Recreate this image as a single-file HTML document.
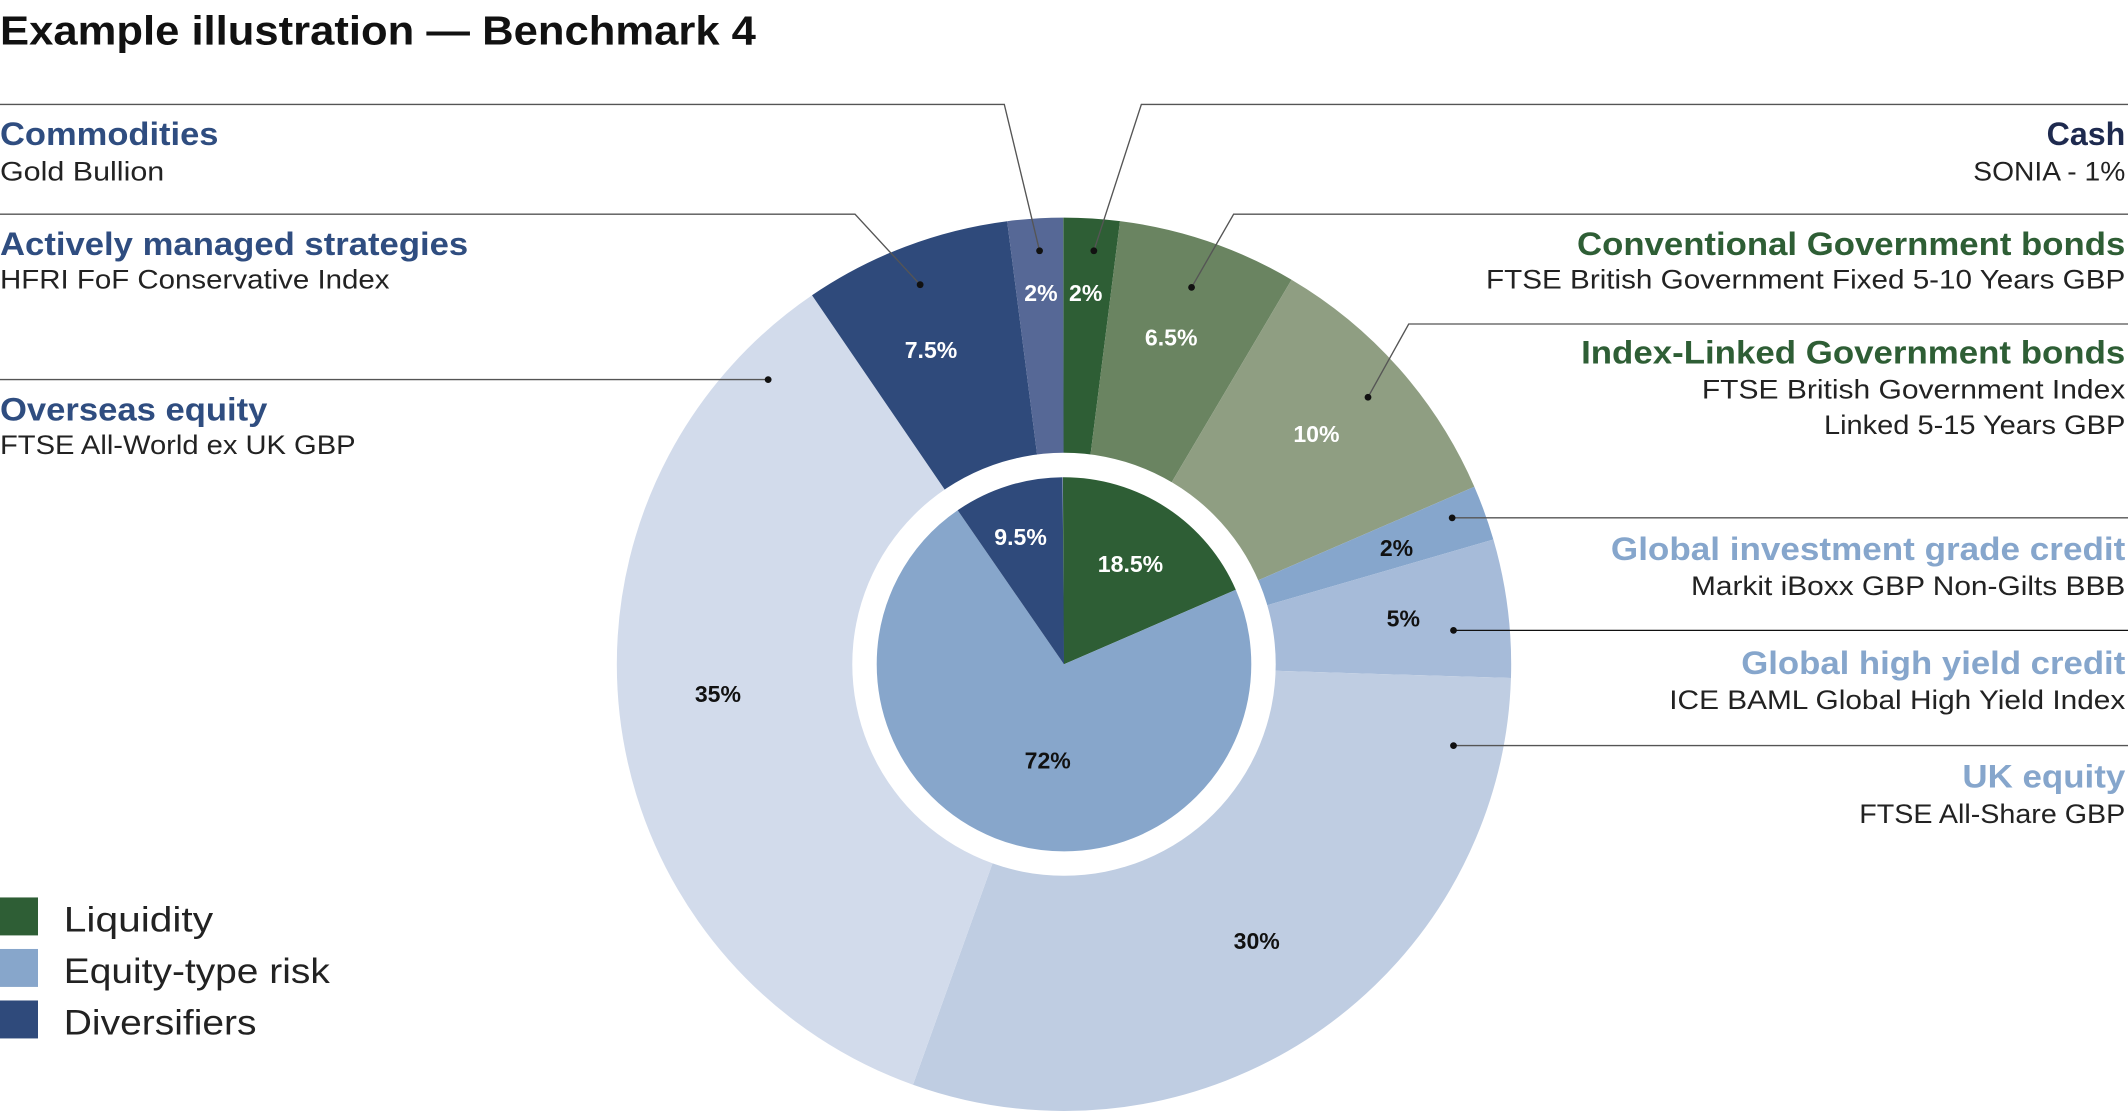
<!DOCTYPE html>
<html><head><meta charset="utf-8"><style>
html,body{margin:0;padding:0;background:#fff;width:2128px;height:1113px;overflow:hidden}
svg{display:block}
text{font-family:"Liberation Sans",sans-serif}
.b{font-weight:bold}
.t{font-size:24px;font-weight:bold}
.s{font-size:20px;fill:#222}
.p{font-size:17px;font-weight:bold;text-anchor:middle}
</style></head><body>
<svg width="2128" height="1113" viewBox="0 0 1568 821" preserveAspectRatio="none" xmlns="http://www.w3.org/2000/svg">
<text x="0" y="33" font-size="30" class="b" fill="#111" textLength="557" lengthAdjust="spacingAndGlyphs">Example illustration — Benchmark 4</text>
<!-- outer ring -->
<g transform="rotate(-90 784 490)" fill="none" stroke-width="174">
<circle cx="784" cy="490" r="242.5" pathLength="100" stroke="#2e5e35" stroke-dasharray="2 98" stroke-dashoffset="0"/>
<circle cx="784" cy="490" r="242.5" pathLength="100" stroke="#6a8461" stroke-dasharray="6.5 93.5" stroke-dashoffset="-2"/>
<circle cx="784" cy="490" r="242.5" pathLength="100" stroke="#8f9e82" stroke-dasharray="10 90" stroke-dashoffset="-8.5"/>
<circle cx="784" cy="490" r="242.5" pathLength="100" stroke="#86a6cc" stroke-dasharray="2 98" stroke-dashoffset="-18.5"/>
<circle cx="784" cy="490" r="242.5" pathLength="100" stroke="#a6bbd9" stroke-dasharray="5 95" stroke-dashoffset="-20.5"/>
<circle cx="784" cy="490" r="242.5" pathLength="100" stroke="#bfcde2" stroke-dasharray="30 70" stroke-dashoffset="-25.5"/>
<circle cx="784" cy="490" r="242.5" pathLength="100" stroke="#d2dbeb" stroke-dasharray="35 65" stroke-dashoffset="-55.5"/>
<circle cx="784" cy="490" r="242.5" pathLength="100" stroke="#2f4a7b" stroke-dasharray="7.5 92.5" stroke-dashoffset="-90.5"/>
<circle cx="784" cy="490" r="242.5" pathLength="100" stroke="#566896" stroke-dasharray="2 98" stroke-dashoffset="-98"/>
</g>
<circle cx="784" cy="490" r="156" fill="#fff"/>
<g transform="rotate(-90 784 490)" fill="none" stroke-width="138">
<circle cx="784" cy="490" r="69" pathLength="100" stroke="#2e5e35" stroke-dasharray="18.5 81.5" stroke-dashoffset="0"/>
<circle cx="784" cy="490" r="69" pathLength="100" stroke="#87a6cb" stroke-dasharray="72 28" stroke-dashoffset="-18.5"/>
<circle cx="784" cy="490" r="69" pathLength="100" stroke="#2f4a7b" stroke-dasharray="9.5 90.5" stroke-dashoffset="-90.5"/>
</g>
<!-- percent labels -->
<g class="p">
<text x="767" y="222" fill="#fff" class="p">2%</text>
<text x="800" y="222" fill="#fff" class="p">2%</text>
<text x="863" y="255" fill="#fff" class="p">6.5%</text>
<text x="970" y="326" fill="#fff" class="p">10%</text>
<text x="1029" y="410" fill="#111" class="p">2%</text>
<text x="1034" y="462" fill="#111" class="p">5%</text>
<text x="926" y="700" fill="#111" class="p">30%</text>
<text x="529" y="518" fill="#111" class="p">35%</text>
<text x="686" y="264" fill="#fff" class="p">7.5%</text>
<text x="752" y="402" fill="#fff" class="p">9.5%</text>
<text x="833" y="422" fill="#fff" class="p">18.5%</text>
<text x="772" y="567" fill="#111" class="p">72%</text>
</g>
<!-- leader lines -->
<g fill="none" stroke="#555" stroke-width="1">
<polyline points="0,77 740,77 766,185"/>
<polyline points="806,185 841,77 1568,77"/>
<polyline points="0,158 630,158 678,210"/>
<polyline points="878,212 909,158 1568,158"/>
<polyline points="0,280 566,280"/>
<polyline points="1008,293 1038,239 1568,239"/>
<polyline points="1070,382 1568,382"/>
<polyline points="1071,465 1568,465" stroke="#111"/>
<polyline points="1071,550 1568,550"/>
</g>
<g fill="#111">
<circle cx="766" cy="185" r="2.5"/><circle cx="806" cy="185" r="2.5"/>
<circle cx="678" cy="210" r="2.5"/><circle cx="878" cy="212" r="2.5"/>
<circle cx="566" cy="280" r="2.5"/><circle cx="1008" cy="293" r="2.5"/>
<circle cx="1070" cy="382" r="2.5"/><circle cx="1071" cy="465" r="2.5"/>
<circle cx="1071" cy="550" r="2.5"/>
</g>
<!-- left labels -->
<text x="0" y="107" class="t" fill="#2f4d80" textLength="161" lengthAdjust="spacingAndGlyphs">Commodities</text>
<text x="0" y="133" class="s" textLength="121" lengthAdjust="spacingAndGlyphs">Gold Bullion</text>
<text x="0" y="188" class="t" fill="#2f4d80" textLength="345" lengthAdjust="spacingAndGlyphs">Actively managed strategies</text>
<text x="0" y="213" class="s" textLength="287" lengthAdjust="spacingAndGlyphs">HFRI FoF Conservative Index</text>
<text x="0" y="310" class="t" fill="#2f4d80" textLength="197" lengthAdjust="spacingAndGlyphs">Overseas equity</text>
<text x="0" y="335" class="s" textLength="262" lengthAdjust="spacingAndGlyphs">FTSE All-World ex UK GBP</text>
<!-- right labels -->
<text x="1508" y="107" class="t" fill="#1e2a4f" textLength="58" lengthAdjust="spacingAndGlyphs">Cash</text>
<text x="1454" y="133" class="s" textLength="112" lengthAdjust="spacingAndGlyphs">SONIA - 1%</text>
<text x="1162" y="188" class="t" fill="#2e5e35" textLength="404" lengthAdjust="spacingAndGlyphs">Conventional Government bonds</text>
<text x="1095" y="213" class="s" textLength="471" lengthAdjust="spacingAndGlyphs">FTSE British Government Fixed 5-10 Years GBP</text>
<text x="1165" y="268" class="t" fill="#2e5e35" textLength="401" lengthAdjust="spacingAndGlyphs">Index-Linked Government bonds</text>
<text x="1254" y="294" class="s" textLength="312" lengthAdjust="spacingAndGlyphs">FTSE British Government Index</text>
<text x="1344" y="320" class="s" textLength="222" lengthAdjust="spacingAndGlyphs">Linked 5-15 Years GBP</text>
<text x="1187" y="413" class="t" fill="#86a6cc" textLength="379" lengthAdjust="spacingAndGlyphs">Global investment grade credit</text>
<text x="1246" y="439" class="s" textLength="320" lengthAdjust="spacingAndGlyphs">Markit iBoxx GBP Non-Gilts BBB</text>
<text x="1283" y="497" class="t" fill="#86a6cc" textLength="283" lengthAdjust="spacingAndGlyphs">Global high yield credit</text>
<text x="1230" y="523" class="s" textLength="336" lengthAdjust="spacingAndGlyphs">ICE BAML Global High Yield Index</text>
<text x="1446" y="581" class="t" fill="#86a6cc" textLength="120" lengthAdjust="spacingAndGlyphs">UK equity</text>
<text x="1370" y="607" class="s" textLength="196" lengthAdjust="spacingAndGlyphs">FTSE All-Share GBP</text>
<!-- legend -->
<rect x="0" y="662" width="28" height="28" fill="#2e5e35"/>
<rect x="0" y="700" width="28" height="28" fill="#87a6cb"/>
<rect x="0" y="738" width="28" height="28" fill="#2f4a7b"/>
<text x="47" y="687" font-size="26" fill="#222" textLength="110" lengthAdjust="spacingAndGlyphs">Liquidity</text>
<text x="47" y="725" font-size="26" fill="#222" textLength="196" lengthAdjust="spacingAndGlyphs">Equity-type risk</text>
<text x="47" y="763" font-size="26" fill="#222" textLength="142" lengthAdjust="spacingAndGlyphs">Diversifiers</text>
</svg>
</body></html>
